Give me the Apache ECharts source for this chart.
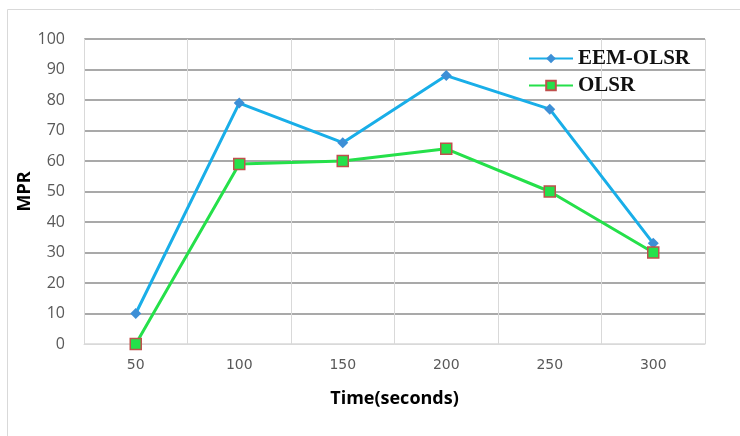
<!DOCTYPE html>
<html>
<head>
<meta charset="utf-8">
<script src="https://cdn.jsdelivr.net/npm/echarts@6/dist/echarts.min.js"></script>
<style>html,body{margin:0;padding:0;background:#fff}#c{width:740px;height:436px}</style>
</head>
<body>
<div id="c"></div>
<script>
var categories = ['50', '100', '150', '200', '250', '300'];
var eemOlsr = [10, 79, 66, 88, 77, 33];
var olsr = [0, 59, 60, 64, 50, 30];
var yTicks = [0, 10, 20, 30, 40, 50, 60, 70, 80, 90, 100];

var chart = echarts.init(document.getElementById('c'));
var splitColors = yTicks.map(function (v, i) { return i === 0 ? '#d9d9d9' : '#8c8c8c'; });
chart.setOption({
  animation: false,
  graphic: [{
    type: 'rect', shape: { x: 7.5, y: 9.5, width: 800, height: 500 },
    style: { fill: 'none', stroke: '#d9d9d9', lineWidth: 1 }, z: -1
  }],
  grid: { left: 84, right: 35, top: 39, bottom: 92 },
  legend: {
    orient: 'vertical', left: 523, top: 43, itemWidth: 44, itemHeight: 12, itemGap: 6,
    textStyle: { fontFamily: 'Liberation Serif', fontWeight: 'bold', fontSize: 21, color: '#111' },
    data: ['EEM-OLSR', 'OLSR']
  },
  xAxis: {
    type: 'category', data: categories, boundaryGap: true,
    name: 'Time(seconds)', nameLocation: 'middle', nameGap: 46,
    nameTextStyle: { fontFamily: 'Open Sans', fontWeight: 'bold', fontSize: 18, color: '#000' },
    axisLine: { lineStyle: { color: '#d9d9d9' } },
    axisTick: { show: false },
    axisLabel: { margin: 14, fontFamily: 'DejaVu Sans', fontSize: 14, color: '#595959' },
    splitLine: { show: true, lineStyle: { color: '#d9d9d9', width: 1 } }
  },
  yAxis: {
    type: 'value', min: 0, max: 100, interval: 10,
    name: 'MPR', nameLocation: 'middle', nameGap: 50, nameMoveOverlap: false,
    nameTextStyle: { fontFamily: 'Open Sans', fontWeight: 'bold', fontSize: 18, color: '#000' },
    axisLine: { show: true, lineStyle: { color: '#d9d9d9' } },
    axisTick: { show: false },
    axisLabel: { margin: 19, fontFamily: 'Open Sans', fontSize: 16, color: '#595959' },
    splitLine: { show: true, lineStyle: { color: splitColors, width: 1.5 } }
  },
  series: [{
    name: 'EEM-OLSR', type: 'line', data: eemOlsr,
    symbol: 'diamond', symbolSize: 11,
    lineStyle: { color: '#19aee8', width: 3 },
    itemStyle: { color: '#3d8fd6', borderColor: '#3d8fd6', borderWidth: 0 },
    z: 3
  }, {
    name: 'OLSR', type: 'line', data: olsr,
    symbol: 'rect', symbolSize: 11,
    lineStyle: { color: '#25e04a', width: 3 },
    itemStyle: { color: '#25e04a', borderColor: '#c0504d', borderWidth: 1.5 },
    z: 4
  }]
});
</script>
</body>
</html>
